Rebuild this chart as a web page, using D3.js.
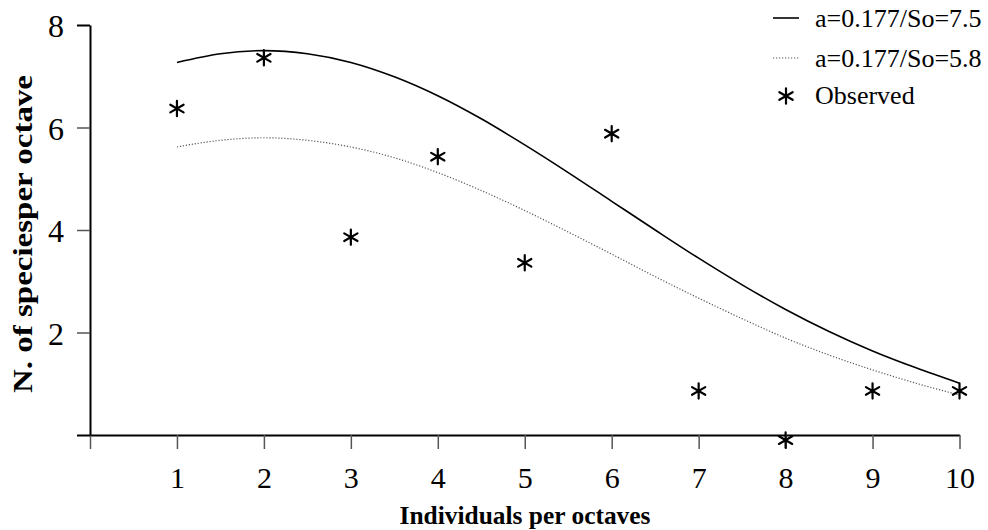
<!DOCTYPE html>
<html>
<head>
<meta charset="utf-8">
<script src="https://cdn.jsdelivr.net/npm/d3@7"></script>
<style>
  html, body { margin: 0; padding: 0; background: #fff; }
  svg { display: block; }
  text { font-family: "Liberation Serif", "Times New Roman", serif; fill: #000; }
</style>
</head>
<body>
<svg id="chart" width="988" height="530"></svg>
<script>
// ---- data ----
const octavesFit = [1, 1.5, 2, 2.5, 3, 3.5, 4, 4.5, 5, 5.5, 6, 6.5, 7, 7.5, 8, 8.5, 9, 9.5, 10];
const fitSo75 = [7.27, 7.44, 7.50, 7.44, 7.27, 6.99, 6.62, 6.17, 5.66, 5.12, 4.56, 4.00, 3.45, 2.93, 2.45, 2.02, 1.64, 1.31, 1.01];
const fitSo58 = [5.62, 5.75, 5.80, 5.75, 5.62, 5.41, 5.12, 4.77, 4.38, 3.96, 3.53, 3.09, 2.67, 2.27, 1.89, 1.56, 1.27, 1.01, 0.78];
const octavesObs = [1, 2, 3, 4, 5, 6, 7, 8, 9, 10];
const observed = [6.37, 7.36, 3.86, 5.43, 3.36, 5.88, 0.86, -0.1, 0.86, 0.86];
const xTicks = [0, 1, 2, 3, 4, 5, 6, 7, 8, 9, 10];
const yTicks = [0, 2, 4, 6, 8];
const legendLabels = ["a=0.177/So=7.5", "a=0.177/So=5.8", "Observed"];
const xTitle = "Individuals per octaves";
const yTitle = "N. of speciesper octave";

// ---- drawing ----
const FONT = "'Liberation Serif', 'Times New Roman', serif";
const svg = d3.select("#chart");
const x = d3.scaleLinear().domain([0, 10]).range([90, 959.5]);
const y = d3.scaleLinear().domain([0, 8]).range([435, 25]);

// x axis
const gx = svg.append("g").attr("transform", `translate(0,${y(0)})`)
  .call(d3.axisBottom(x).tickValues(xTicks).tickSize(14).tickSizeOuter(0)
    .tickFormat(d => d === 0 ? "" : d));
gx.attr("font-family", FONT);
gx.select(".domain").attr("stroke", "#000").attr("stroke-width", 2);
gx.selectAll(".tick line").attr("stroke", "#555").attr("stroke-width", 1.5);
gx.selectAll(".tick text").attr("y", 53).attr("dy", null)
  .style("font-family", FONT).style("font-size", "30px").attr("fill", "#000");

// y axis
const gy = svg.append("g").attr("transform", `translate(${x(0)},0)`)
  .call(d3.axisLeft(y).tickValues(yTicks).tickSize(13).tickSizeOuter(0)
    .tickFormat(d => d === 0 ? "" : d));
gy.attr("font-family", FONT);
gy.select(".domain").attr("stroke", "#000").attr("stroke-width", 2);
gy.selectAll(".tick line").attr("stroke", "#555").attr("stroke-width", 1.5);
gy.selectAll(".tick").filter(d => d === 0 || d === 8).select("line").attr("stroke", "#000").attr("stroke-width", 2);
gy.selectAll(".tick text").attr("x", -26).attr("dy", "0.36em")
  .style("font-family", FONT).style("font-size", "32px").attr("fill", "#000");

// lines
const line = d3.line().x(d => x(d[0])).y(d => y(d[1])).curve(d3.curveMonotoneX);
svg.append("path").datum(octavesFit.map((o, i) => [o, fitSo75[i]]))
  .attr("d", line).attr("fill", "none").attr("stroke", "#000").attr("stroke-width", 1.6);
svg.append("path").datum(octavesFit.map((o, i) => [o, fitSo58[i]]))
  .attr("d", line).attr("fill", "none").attr("stroke", "#555").attr("stroke-width", 1.2)
  .attr("stroke-dasharray", "1.2,1.8");

// observed asterisks
const star = d3.symbol(d3.symbolAsterisk, 165);
svg.selectAll("path.obs").data(octavesObs.map((o, i) => [o, observed[i]])).enter()
  .append("path").attr("class", "obs")
  .attr("transform", d => `translate(${x(d[0])},${y(d[1])})`)
  .attr("d", star).attr("fill", "none").attr("stroke", "#000")
  .attr("stroke-width", 2.2).attr("stroke-linecap", "round");

// legend
const lg = svg.append("g");
lg.append("line").attr("x1", 773).attr("x2", 799).attr("y1", 18).attr("y2", 18)
  .attr("stroke", "#000").attr("stroke-width", 1.6);
lg.append("line").attr("x1", 773).attr("x2", 799).attr("y1", 58).attr("y2", 58)
  .attr("stroke", "#555").attr("stroke-width", 1.2).attr("stroke-dasharray", "1.2,1.8");
lg.append("path").attr("transform", "translate(786,96)").attr("d", star)
  .attr("fill", "none").attr("stroke", "#000").attr("stroke-width", 2.2).attr("stroke-linecap", "round");
[27, 67, 104].forEach((by, i) => {
  lg.append("text").attr("x", 815).attr("y", by).style("font-family", FONT)
    .style("font-size", "26px").text(legendLabels[i]);
});

// axis titles
svg.append("text").attr("x", 525).attr("y", 524).attr("text-anchor", "middle")
  .attr("textLength", 251).attr("lengthAdjust", "spacingAndGlyphs")
  .style("font-family", FONT).style("font-size", "25px").style("font-weight", "bold").text(xTitle);
svg.append("text").attr("transform", "translate(32,234) rotate(-90)").attr("text-anchor", "middle")
  .attr("textLength", 318).attr("lengthAdjust", "spacingAndGlyphs")
  .style("font-family", FONT).style("font-size", "27px").style("font-weight", "bold").text(yTitle);
</script>
</body>
</html>
